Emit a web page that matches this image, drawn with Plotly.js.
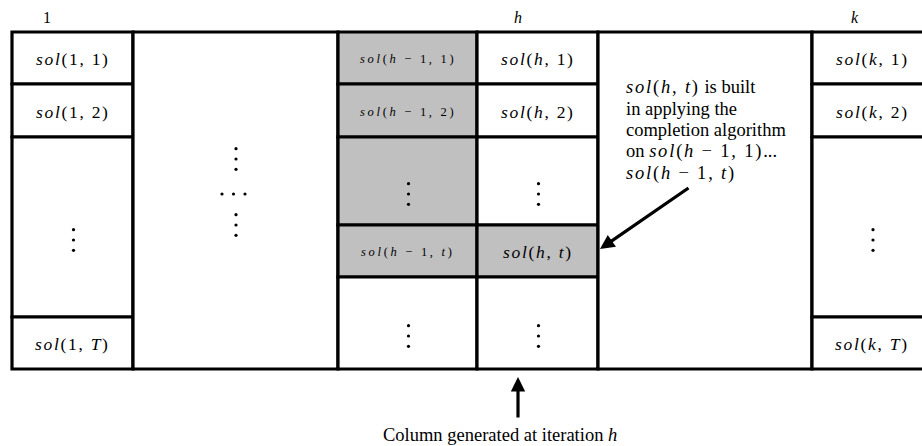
<!DOCTYPE html>
<html>
<head>
<meta charset="utf-8">
<script src="https://cdn.plot.ly/plotly-3.0.1.min.js"></script>
<style>html,body{margin:0;padding:0;background:#fff;}#chart{width:922px;height:446px;}</style>
</head>
<body>
<div id="chart"></div>
<script>
// ---- diagram data ----
const M = s => '<span style="letter-spacing:1.8px">' + s + '</span>';
const headerLabels = ['1', 'h', 'k'];
const col1Cells = ['<i>sol</i>(1, 1)', '<i>sol</i>(1, 2)', 'vdots', '<i>sol</i>(1, <i>T</i>)'];
const colPrevCells = ['<i>sol</i>(<i>h</i> − 1, 1)', '<i>sol</i>(<i>h</i> − 1, 2)', 'vdots', '<i>sol</i>(<i>h</i> − 1, <i>t</i>)', 'vdots'];
const colPrevShaded = [true, true, true, true, false];
const colHCells = ['<i>sol</i>(<i>h</i>, 1)', '<i>sol</i>(<i>h</i>, 2)', 'vdots', '<i>sol</i>(<i>h</i>, <i>t</i>)', 'vdots'];
const colHShaded = [false, false, false, true, false];
const colKCells = ['<i>sol</i>(<i>k</i>, 1)', '<i>sol</i>(<i>k</i>, 2)', 'vdots', '<i>sol</i>(<i>k</i>, <i>T</i>)'];
const noteLines = [M('<i>sol</i>(<i>h</i>, <i>t</i>)') + ' is built', 'in applying the', 'completion algorithm',
  'on ' + M('<i>sol</i>(<i>h</i> − 1, 1)') + '...', M('<i>sol</i>(<i>h</i> − 1, <i>t</i>)')];
const bottomCaption = 'Column generated at iteration <i>h</i>';

// ---- geometry (pixel-like axis units) ----
const colX = [12, 133, 338, 477, 598, 812, 940];
const rowsSide = [32, 84, 137, 317, 369];
const rowsMid = [32, 84, 137, 225, 277, 369];

const SERIF = 'Liberation Serif, DejaVu Serif, serif';
const shapes = [];
const annotations = [];
const dotX = [], dotY = [];

function vdots(cx, cy) {
  [-10.3, 0, 10.3].forEach(d => { dotX.push(cx); dotY.push(cy + d); });
}

function addColumn(ci, rows, cells, shaded, fontSize, spacing, textX) {
  const x0 = colX[ci], x1 = colX[ci + 1];
  for (let r = 0; r < rows.length - 1; r++) {
    const y0 = rows[r], y1 = rows[r + 1];
    shapes.push({type: 'rect', xref: 'x', yref: 'y', x0: x0, x1: x1, y0: y0, y1: y1,
      fillcolor: (shaded && shaded[r]) ? '#c0c0c0' : '#ffffff',
      line: {color: '#000', width: 3.2}, layer: 'below'});
    const c = cells[r];
    const cx = textX !== undefined ? textX : (x0 + x1) / 2, cy = (y0 + y1) / 2;
    if (c === 'vdots') vdots(cx + 1, cy + 13);
    else if (c) annotations.push({x: cx, y: cy + 1, xref: 'x', yref: 'y',
      text: '<span style="letter-spacing:' + spacing + 'px">' + c + '</span>', showarrow: false,
      font: {family: SERIF, size: fontSize, color: '#000'}});
  }
}

addColumn(0, rowsSide, col1Cells, null, 17.5, 1.7);
addColumn(1, [32, 369], [''], null, 17.5, 1.7);
addColumn(2, rowsMid, colPrevCells, colPrevShaded, 12.5, 2.7);
addColumn(3, rowsMid, colHCells, colHShaded, 17.5, 1.7);
addColumn(4, [32, 369], [''], null, 17.5, 1.7);
addColumn(5, rowsSide, colKCells, null, 17.5, 1.7, 872);

// ellipsis in the wide gap column
vdots(236, 159);
[222, 233.5, 245].forEach(x => { dotX.push(x); dotY.push(194); });
vdots(236, 225);

// column headers
[[headerLabels[0], 47], [headerLabels[1], 518], [headerLabels[2], 855]].forEach(([t, x]) => {
  annotations.push({x: x, y: 17, xref: 'x', yref: 'y', text: t === '1' ? t : '<i>' + t + '</i>',
    showarrow: false, font: {family: SERIF, size: 16, color: '#000'}});
});

// note text
noteLines.forEach((t, i) => {
  annotations.push({x: 624, y: 87 + i * 21.5, xref: 'x', yref: 'y', text: t, showarrow: false,
    xanchor: 'left', font: {family: SERIF, size: 18.5, color: '#000'}});
});

// arrows
annotations.push({x: 600, y: 249, ax: 690, ay: 187, xref: 'x', yref: 'y', axref: 'x', ayref: 'y',
  text: '', showarrow: true, arrowhead: 2, arrowsize: 0.9, arrowwidth: 3.2, arrowcolor: '#000'});
annotations.push({x: 518, y: 377, ax: 518, ay: 419, xref: 'x', yref: 'y', axref: 'x', ayref: 'y',
  text: '', showarrow: true, arrowhead: 2, arrowsize: 0.9, arrowwidth: 3.2, arrowcolor: '#000'});

// caption
annotations.push({x: 500, y: 435, xref: 'x', yref: 'y', text: bottomCaption, showarrow: false,
  font: {family: SERIF, size: 18.5, color: '#000'}});

const traces = [{x: dotX, y: dotY, mode: 'markers', type: 'scatter',
  marker: {color: '#000', size: 3.2}, hoverinfo: 'skip', cliponaxis: false}];

const layout = {
  width: 922, height: 446,
  margin: {l: 0, r: 0, t: 0, b: 0},
  paper_bgcolor: '#fff', plot_bgcolor: '#fff',
  showlegend: false,
  xaxis: {range: [0, 922], visible: false, fixedrange: true},
  yaxis: {range: [446, 0], visible: false, fixedrange: true},
  shapes: shapes,
  annotations: annotations
};

Plotly.newPlot('chart', traces, layout, {staticPlot: true, displayModeBar: false});
</script>
</body>
</html>
